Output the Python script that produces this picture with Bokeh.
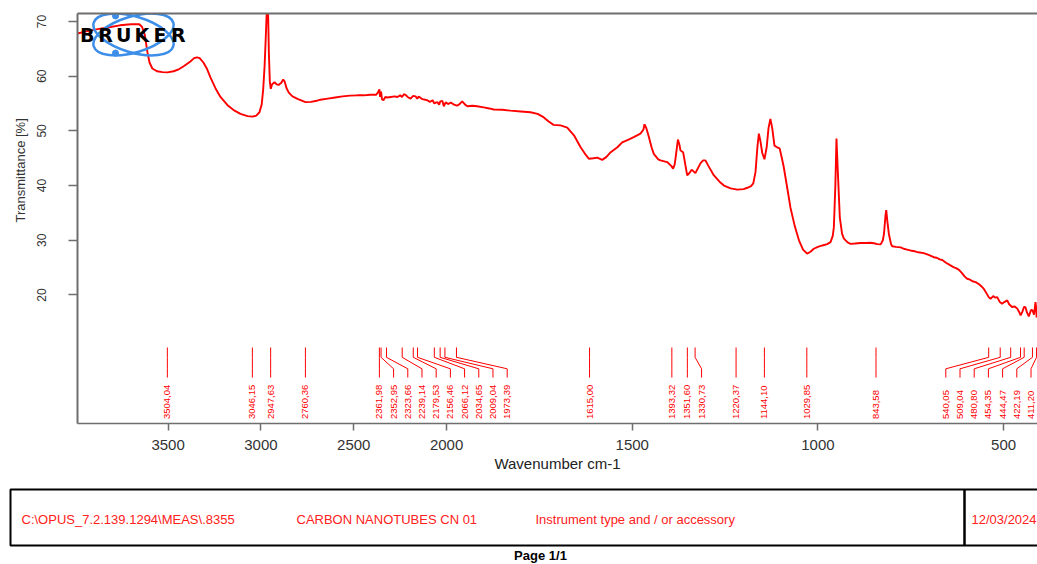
import math
from bokeh.plotting import figure
from bokeh.models import (Range1d, FixedTicker, CustomJSTickFormatter, LinearAxis, Title)
from bokeh.layouts import column
from bokeh.embed import file_html
from bokeh.resources import INLINE
from bokeh.core.properties import value

# ---------------- data ----------------
WAVENUMBER = [
    3988, 3940, 3880, 3810, 3760, 3700, 3655, 3640, 3625, 3612, 3600, 3585, 3560, 3530, 3504,
    3470, 3440, 3412, 3380, 3360, 3345, 3330, 3310, 3290, 3272, 3245, 3218, 3180, 3142, 3110,
    3072, 3046, 3025, 3008, 2996, 2988, 2980, 2974, 2968, 2962, 2957, 2952, 2947, 2940, 2927,
    2915, 2905, 2890, 2880, 2872, 2862, 2850, 2830, 2800, 2760, 2730, 2700, 2680, 2640, 2600,
    2560, 2520, 2480, 2447, 2410, 2380, 2370, 2362, 2358, 2353, 2348, 2340, 2330, 2320, 2300,
    2280, 2265, 2250, 2240, 2230, 2221, 2210, 2194, 2180, 2167, 2158, 2150, 2130, 2104, 2090,
    2075, 2066, 2055, 2050, 2040, 2034, 2023, 2015, 2005, 1995, 1989, 1980, 1972, 1965, 1958,
    1950, 1944, 1930, 1918, 1900, 1885, 1873, 1850, 1828, 1800, 1774, 1755, 1739, 1725, 1712,
    1693, 1675, 1657, 1639, 1625, 1617, 1605, 1594, 1581, 1570, 1558, 1540, 1527, 1510, 1496,
    1478, 1470, 1467, 1462, 1455, 1448, 1442, 1430, 1424, 1406, 1395, 1390, 1386, 1383, 1377,
    1373, 1370, 1363, 1357, 1352, 1346, 1340, 1335, 1330, 1323, 1316, 1309, 1303, 1295, 1280,
    1265, 1253, 1235, 1217, 1200, 1190, 1180, 1174, 1168, 1163, 1159, 1155, 1150, 1144, 1138,
    1133, 1128, 1123, 1117, 1110, 1103, 1097, 1092, 1080, 1074, 1062, 1051, 1040, 1029, 1020,
    1011, 1000, 988, 975, 966, 960, 957, 953, 950, 946, 941, 935, 930, 920, 912,
    900, 885, 870, 860, 849, 840, 831, 825, 822, 818, 816, 813, 809, 803, 800,
    790, 777, 769, 760, 751, 740, 730, 715, 700, 688, 680, 672, 665, 655, 643,
    635, 628, 620, 612, 605, 598, 590, 584, 575, 565, 560, 553, 545, 540, 535,
    528, 522, 517, 510, 504, 498, 490, 485, 477, 470, 463, 458, 454, 449, 445,
    441, 437, 432, 428, 425, 422, 418, 414, 412, 411, 409,
]
TRANSMITTANCE = [
    67.8, 68.2, 68.6, 69.0, 69.3, 69.5, 69.5, 69.0, 67.5, 64.5, 62.5, 61.4, 60.9, 60.75, 60.7,
    60.9, 61.3, 61.9, 62.7, 63.3, 63.45, 63.3, 62.5, 61.3, 59.8, 57.8, 56.2, 54.7, 53.7, 53.1,
    52.7, 52.6, 52.8, 53.4, 54.8, 57.5, 62.0, 67.0, 72.5, 72.5, 64.0, 59.0, 57.7, 58.5, 58.9,
    58.5, 58.4, 58.8, 59.4, 59.0, 57.8, 57.0, 56.3, 55.8, 55.25, 55.3, 55.5, 55.7, 55.9, 56.1,
    56.3, 56.45, 56.5, 56.5, 56.6, 56.6, 57.0, 57.6, 56.2, 57.2, 55.8, 55.6, 56.2, 56.1, 56.2,
    56.3, 56.2, 56.5, 56.2, 56.7, 56.6, 56.2, 55.9, 56.4, 56.3, 55.9, 56.3, 55.8, 55.6, 55.3,
    55.6, 55.0, 55.2, 55.25, 54.8, 55.4, 55.5, 54.5, 55.2, 54.9, 55.2, 54.8, 54.6, 54.9, 55.4,
    54.8, 54.5, 54.6, 54.5, 54.3, 54.1, 53.9, 53.85, 53.7, 53.55, 53.4, 53.1, 52.5, 51.7, 51.1,
    51.0, 50.6, 49.2, 47.0, 45.6, 44.9, 45.0, 45.1, 44.7, 45.2, 46.1, 47.0, 47.9, 48.4, 48.85,
    49.5, 50.2, 51.2, 50.5, 48.85, 47.0, 45.8, 44.8, 44.6, 44.3, 43.6, 43.1, 43.8, 45.2, 48.4,
    47.5, 46.4, 46.1, 43.8, 41.85, 42.3, 42.9, 42.6, 42.27, 43.2, 44.1, 44.6, 44.6, 43.6, 41.85,
    40.7, 40.0, 39.5, 39.25, 39.35, 39.6, 39.9, 40.4, 42.5, 47.0, 49.5, 48.2, 46.0, 44.8, 47.0,
    50.5, 52.2, 50.5, 47.3, 47.0, 46.8, 45.0, 43.4, 38.5, 36.0, 32.5, 30.0, 28.3, 27.55, 27.9,
    28.45, 28.8, 29.05, 29.3, 29.65, 30.8, 32.4, 40.0, 48.6, 42.0, 34.2, 31.2, 30.3, 29.6, 29.35,
    29.4, 29.5, 29.5, 29.55, 29.45, 29.3, 29.25, 30.0, 31.2, 34.5, 35.5, 33.5, 31.2, 29.3, 28.9,
    28.8, 28.7, 28.45, 28.3, 28.14, 28.0, 27.8, 27.65, 27.3, 26.9, 26.8, 26.5, 26.4, 25.9, 25.4,
    25.1, 24.9, 24.6, 24.0, 23.4, 22.96, 22.8, 22.5, 22.34, 21.9, 21.6, 21.1, 20.2, 19.6, 19.3,
    19.8, 19.5, 19.6, 18.7, 18.4, 18.7, 19.0, 18.3, 17.8, 17.9, 17.5, 16.9, 16.25, 17.0, 17.8,
    17.77, 16.8, 16.07, 16.9, 17.3, 17.17, 16.4, 18.7, 17.5, 15.9, 16.5,
]
PEAK_WAVENUMBERS = [
    3504.04, 3046.15, 2947.63, 2760.36, 2361.98, 2352.95, 2323.66, 2239.14, 2179.53, 2156.46,
    2066.12, 2034.65, 2009.04, 1973.39, 1615.00, 1393.32, 1351.60, 1330.73, 1220.37, 1144.10,
    1029.85, 843.58, 540.05, 509.04, 480.80, 454.35, 444.47, 422.19, 411.20,
]
X_TICKS = [3500, 3000, 2500, 2000, 1500, 1000, 500]
Y_TICKS = [20, 30, 40, 50, 60, 70]
FOOTER_FIELDS = [r"C:\OPUS_7.2.139.1294\MEAS\.8355", "CARBON NANOTUBES CN 01",
                 "Instrument type and / or accessory", "12/03/2024"]
PAGE_TEXT = "Page 1/1"
LOGO_LETTERS = list("BRUKER")

# ---------------- scale: above 2000 cm-1 the axis is compressed by 2 ----------------
BREAK = 2000.0


def axis_pos(wn):
    return wn if wn <= BREAK else BREAK + (wn - BREAK) / 2.0


RED = "#ff0000"
AXIS_GREY = "#6e6e6e"
W, H_MAIN, H_FOOT = 1037, 486, 78
B_LEFT, B_TOP, B_BOTTOM = 77, 13, 63
FRAME_W = W - B_LEFT
FRAME_H = H_MAIN - B_TOP - B_BOTTOM

X_START, X_END = axis_pos(3988), 408.6
Y_START, Y_END = -3.5, 71.46
PX_X = FRAME_W / (X_START - X_END)
PX_Y = FRAME_H / (Y_END - Y_START)

p = figure(width=W, height=H_MAIN, output_backend="svg", toolbar_location=None,
           x_range=Range1d(X_START, X_END), y_range=Range1d(Y_START, Y_END),
           min_border_left=B_LEFT, min_border_right=0, min_border_top=B_TOP,
           min_border_bottom=B_BOTTOM)
p.grid.visible = False
p.outline_line_color = None
p.background_fill_color = "white"
p.border_fill_color = "white"

# x axis
xa = p.xaxis[0]
xa.ticker = FixedTicker(ticks=[axis_pos(t) for t in X_TICKS])
xa.formatter = CustomJSTickFormatter(
    code="return String(Math.round(tick > 2000 ? 2000 + 2*(tick-2000) : tick));")
xa.axis_label = "Wavenumber cm-1"
xa.axis_label_text_font = "Liberation Sans"
xa.axis_label_text_font_style = "normal"
xa.axis_label_text_font_size = "15px"
xa.axis_label_text_color = "#222222"
xa.axis_label_standoff = 2
xa.major_label_text_font = "Liberation Sans"
xa.major_label_text_font_size = "15px"
xa.major_label_text_color = "#333333"
xa.major_label_standoff = 9
xa.major_tick_out = 7
xa.major_tick_in = 0
xa.minor_tick_out = 0
xa.minor_tick_in = 0
xa.axis_line_color = AXIS_GREY
xa.axis_line_width = 1.5
xa.major_tick_line_color = AXIS_GREY
xa.major_tick_line_width = 1.5

# y axis
ya = p.yaxis[0]
ya.ticker = FixedTicker(ticks=Y_TICKS)
ya.major_label_orientation = "vertical"
ya.major_label_text_font = "Liberation Sans"
ya.major_label_text_font_size = "12px"
ya.major_label_text_color = "#333333"
ya.major_label_standoff = 22
ya.major_tick_out = 9
ya.major_tick_in = 0
ya.minor_tick_out = 0
ya.minor_tick_in = 0
ya.axis_line_color = AXIS_GREY
ya.axis_line_width = 2
ya.major_tick_line_color = AXIS_GREY
ya.major_tick_line_width = 1.5

# top border
top_axis = LinearAxis(ticker=FixedTicker(ticks=[]), major_label_text_font_size="0px",
                      major_tick_out=0, major_tick_in=0, minor_tick_out=0, minor_tick_in=0,
                      axis_line_color=AXIS_GREY, axis_line_width=2)
p.add_layout(top_axis, "above")

# y-axis title, placed like the original (not centred on the frame)
p.add_layout(Title(text="Transmittance [%]", align="left", offset=201,
                   vertical_align="bottom", standoff=13, text_font="Liberation Sans",
                   text_font_size="13px", text_font_style="normal",
                   text_color="#333333"), "left")

# spectrum
p.line(x=[axis_pos(w) for w in WAVENUMBER], y=TRANSMITTANCE, line_color=RED, line_width=1.9)

# peak labels with a simple de-overlap layout
GAP = 14.2 / PX_X
pu = [axis_pos(w) for w in PEAK_WAVENUMBERS]
lab = []
for i, v in enumerate(pu):
    lab.append(v if i == 0 else min(v, lab[-1] - GAP))
lab[-1] = max(lab[-1], X_END + 6.5 / PX_X)
for i in range(len(lab) - 2, -1, -1):
    lab[i] = max(lab[i], lab[i + 1] + GAP)

Y_TOP, Y_K1, Y_K2, Y_BOT, Y_TXT = 10.4, 8.6, 6.5, 4.9, -2.7
p.multi_line(xs=[[a, a, b, b] for a, b in zip(pu, lab)],
             ys=[[Y_TOP, Y_K1, Y_K2, Y_BOT] for _ in pu], line_color=RED, line_width=1)
p.text(x=lab, y=[Y_TXT] * len(lab),
       text=[f"{w:.2f}".replace(".", ",") for w in PEAK_WAVENUMBERS],
       angle=math.pi / 2, text_align="left", text_baseline="middle",
       text_font=value("Liberation Sans"), text_font_size="9.5px", text_color=RED)

# Bruker logo
cx = X_START - 56 / PX_X
cy = Y_END - 21 / PX_Y
BLUE = "#3d8ee8"
p.ellipse(x=[cx, cx], y=[cy, cy], width=83, height=36, angle=[0.29, -0.29],
          width_units="screen", height_units="screen", fill_color=None,
          line_color=BLUE, line_width=2.5)
p.scatter(x=[cx + 18 / PX_X, cx + 18 / PX_X], y=[cy + 18.5 / PX_Y, cy - 18.5 / PX_Y],
          size=6, color=BLUE)
p.text(x=[X_START - (9.8 + 18.2 * i) / PX_X for i in range(len(LOGO_LETTERS))],
       y=[cy] * len(LOGO_LETTERS), text=LOGO_LETTERS, text_align="center",
       text_baseline="middle", text_font=value("DejaVu Sans"), text_font_style="bold",
       text_font_size="19px", text_color="black")

# ---------------- footer ----------------
f = figure(width=W, height=H_FOOT, output_backend="svg", toolbar_location=None,
           x_range=Range1d(0, W), y_range=Range1d(H_FOOT, 0),
           x_axis_location=None, y_axis_location=None, min_border=0)
f.grid.visible = False
f.outline_line_color = None
f.quad(left=[10], right=[W + 10], top=[3], bottom=[59], fill_color=None,
       line_color="black", line_width=2)
f.segment(x0=[964], y0=[3], x1=[964], y1=[59], line_color="black", line_width=2.5)
f.text(x=[21, 296, 535, 971], y=[33] * 4, text=FOOTER_FIELDS, text_align="left",
       text_baseline="middle", text_font=value("Liberation Sans"), text_font_size="13px",
       text_color="#ff2020")
f.text(x=[540], y=[69], text=[PAGE_TEXT], text_align="center", text_baseline="middle",
       text_font=value("Liberation Sans"), text_font_style="bold", text_font_size="13px",
       text_color="black")

# the footer must not be frame-aligned with the spectrum plot
for fig in (p, f):
    if "frame_align" in fig.properties():
        fig.frame_align = False

layout = column(p, f, spacing=0)

open("out.html", "w").write(file_html(layout, INLINE))
